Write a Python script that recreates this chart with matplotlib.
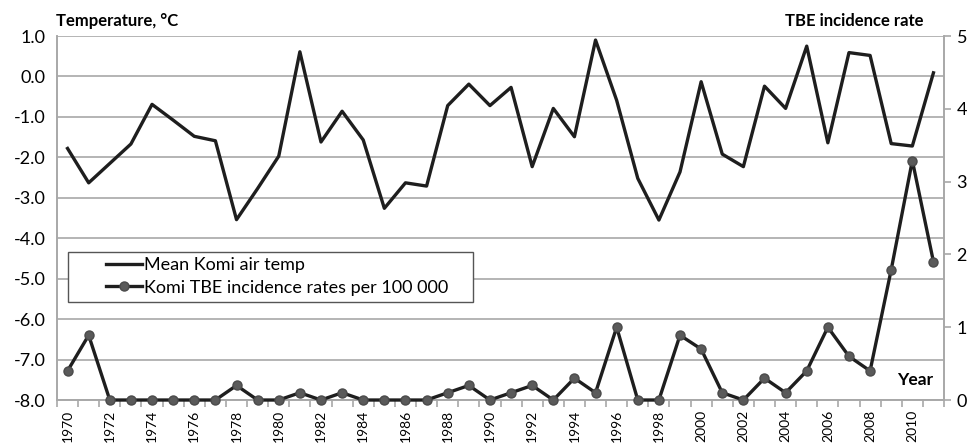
import matplotlib.pyplot as plt
import numpy as np
from matplotlib.patches import Rectangle

plt.rcParams["font.family"] = ["Lato", "DejaVu Sans"]

years = list(range(1970, 2012))

# mean Komi air temperature, degrees C
temp = [-1.78, -2.63, -2.15, -1.67, -0.69, -1.08, -1.48, -1.59, -3.54, -2.77,
        -1.97, 0.61, -1.62, -0.86, -1.57, -3.26, -2.63, -2.71, -0.72, -0.19,
        -0.72, -0.27, -2.23, -0.79, -1.49, 0.90, -0.59, -2.52, -3.55, -2.36,
        -0.13, -1.92, -2.23, -0.24, -0.79, 0.75, -1.64, 0.59, 0.52, -1.66,
        -1.72, 0.09]

# Komi TBE incidence rates per 100 000
tbe = [0.40, 0.89, 0.0, 0.0, 0.0, 0.0, 0.0, 0.0, 0.2, 0.0,
       0.0, 0.1, 0.0, 0.1, 0.0, 0.0, 0.0, 0.0, 0.1, 0.2,
       0.0, 0.1, 0.2, 0.0, 0.3, 0.1, 1.0, 0.0, 0.0, 0.89,
       0.70, 0.1, 0.0, 0.3, 0.1, 0.4, 1.0, 0.6, 0.4, 1.79,
       3.29, 1.90]

temp_ticks = np.arange(-8.0, 1.01, 1.0)
tbe_ticks = [0, 1, 2, 3, 4, 5]

line_col = "#1e1e1e"
grid_col = "#a8a8a8"

fig = plt.figure(figsize=(9.71, 4.48), dpi=100)
ax1 = fig.add_axes([0.0587, 0.1071, 0.9135, 0.8125])
ax2 = ax1.twinx()

x = np.arange(len(years))

l1, = ax1.plot(x, temp, color=line_col, linewidth=2.4, zorder=3,
               label="Mean Komi air temp")
l2, = ax2.plot(x, tbe, color=line_col, linewidth=2.4, marker="o",
               markersize=6.5, markerfacecolor="#5a5a5a",
               markeredgecolor="#4a4a4a", zorder=3, clip_on=False,
               label="Komi TBE incidence rates per 100 000")

ax1.set_xlim(-0.5, len(years) - 0.5)
ax1.set_ylim(-8.0, 1.0)
ax2.set_ylim(0, 5)

ax1.set_yticks(temp_ticks)
ax1.set_yticklabels(["%.1f" % t for t in temp_ticks], fontsize=13)
ax2.set_yticks(tbe_ticks)
ax2.set_yticklabels([str(t) for t in tbe_ticks], fontsize=13)

ax1.yaxis.grid(True, color=grid_col, linewidth=1.2)
ax1.set_axisbelow(True)

# year labels every 2 years, tick marks between categories
ax1.set_xticks(x[::2])
ax1.set_xticklabels([str(y) for y in years[::2]], rotation=90, fontsize=10)
ax1.tick_params(axis="x", length=0, pad=7)
ax1.set_xticks(np.arange(-0.5, len(years), 1.0), minor=True)
ax1.tick_params(axis="x", which="minor", length=5, color=grid_col, width=1.2)

ax1.tick_params(axis="y", length=0, pad=8)
ax2.tick_params(axis="y", length=5, color=grid_col, width=1.2, pad=4)

for a in (ax1, ax2):
    a.spines["top"].set_visible(False)
    for s in ("left", "right", "bottom"):
        a.spines[s].set_color(grid_col)
        a.spines[s].set_linewidth(1.2)

fig.text(0.058, 0.935, "Temperature, \u00b0C", fontsize=12, fontweight="bold",
         ha="left", va="bottom")
fig.text(0.951, 0.935, "TBE incidence rate", fontsize=12, fontweight="bold",
         ha="right", va="bottom")
ax1.text(0.988, 0.033, "Year", transform=ax1.transAxes, fontsize=12.5,
         fontweight="bold", ha="right", va="bottom")

# legend box, Excel style with wide padding
box = Rectangle((0.0124, 0.270), 0.4566, 0.137, transform=ax1.transAxes,
                facecolor="white", edgecolor="#555555", linewidth=1.0,
                zorder=4)
ax1.add_patch(box)
leg = ax1.legend(handles=[l1, l2], loc="center left",
                 bbox_to_anchor=(0.055, 0.339), fontsize=13, frameon=False,
                 handlelength=2.0, handletextpad=0.1,
                 borderpad=0, labelspacing=0.35, borderaxespad=0)
leg.set_zorder(5)

fig.savefig("out.png", dpi=100)
